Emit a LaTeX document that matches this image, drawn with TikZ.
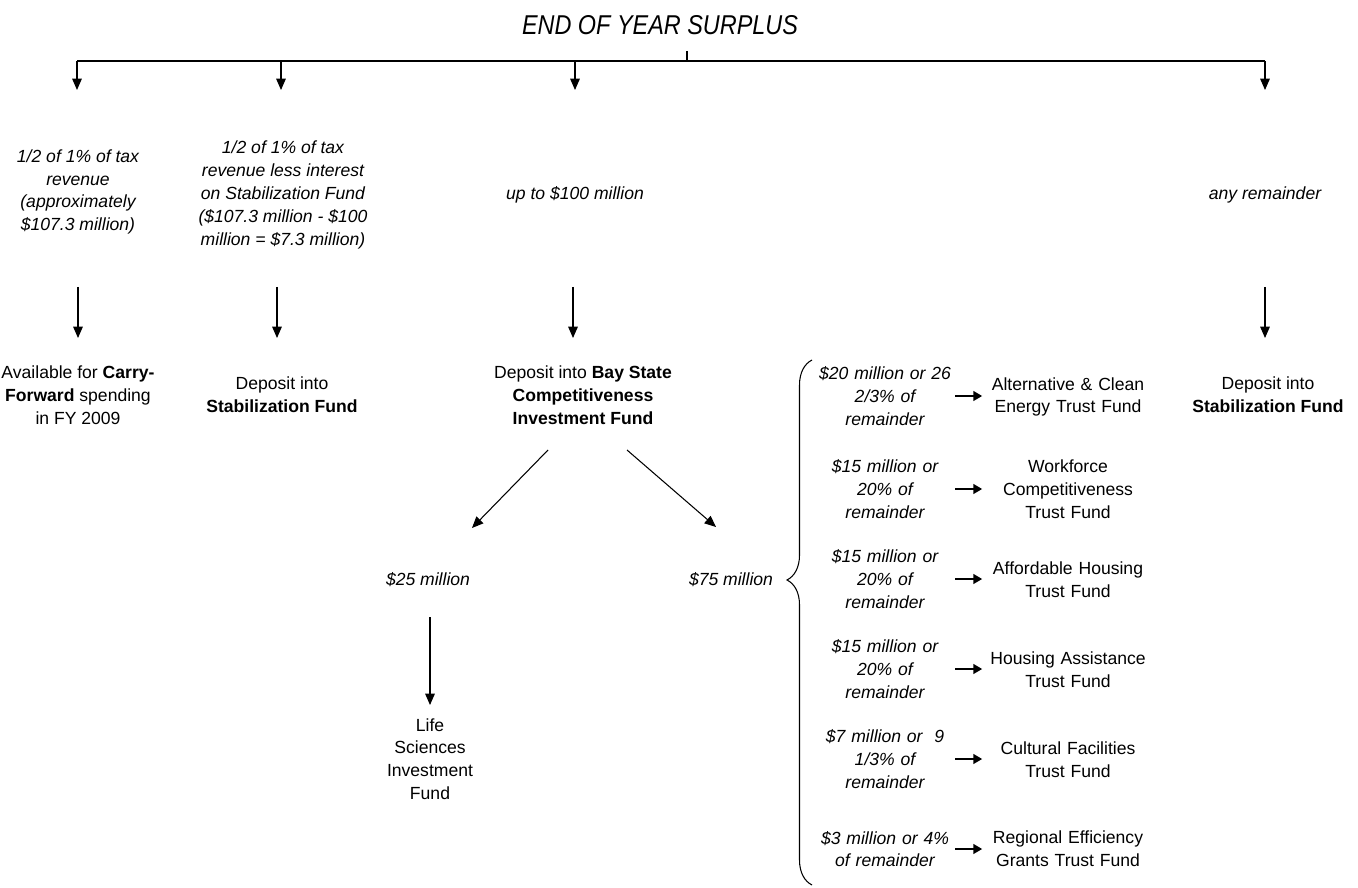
\documentclass[tikz,border=0pt]{standalone}
\usepackage{fontspec}
\setmainfont{Liberation Sans}
\newfontfamily\titlefont[FakeStretch=0.86]{Liberation Sans}
\usetikzlibrary{arrows.meta,decorations.pathreplacing}
\begin{document}
\begin{tikzpicture}[x=0.02cm,y=-0.02cm,
  txt/.style={font=\fontsize{10}{13}\selectfont, align=center, inner sep=0pt},
  lab/.style={txt, font=\fontsize{10}{13}\selectfont\itshape},
  rule/.style={lab, text width=2.8cm},
  fund/.style={txt, text width=3.3cm},
  arr/.style={-{Triangle[length=6.5pt,width=5.5pt]}, line width=0.6pt},
  farr/.style={-{Triangle[length=5pt,width=5.5pt]}, line width=1.1pt, shorten >=1.7pt},
  bus/.style={line width=0.7pt}]
\useasboundingbox (0,0) rectangle (1358,888);

% title and bus
\node[inner sep=0pt, font=\titlefont\itshape\fontsize{15.5}{18}\selectfont] (title) at (660,25) {END OF YEAR SURPLUS};
\coordinate (tick) at (687,51);
\coordinate (bl) at (77,61);
\coordinate (br) at (1265,61);
\draw[bus] (bl) -- (br);
\draw[line width=0.6pt] (tick) -- (tick |- bl);
\foreach \x/\n in {77/1,281/2,575/3,1265/4}{
  \coordinate (t\n) at (\x,61);
  \coordinate (u\n) at (\x,90);
  \draw[arr] (t\n) -- (u\n);
}

% first level labels
\node[lab] (l1) at (78,192) {1/2 of 1\% of tax\\revenue\\(approximately\\\$107.3 million)};
\node[lab] (l2) at (283,195) {1/2 of 1\% of tax\\revenue less interest\\on Stabilization Fund\\(\$107.3 million - \$100\\million = \$7.3 million)};
\node[lab] (l3) at (575,195) {up to \$100 million};
\node[lab] (l4) at (1265,195) {any remainder};

% second level arrows
\draw[arr] (l1 |- 0,287) -- (l1 |- 0,338);
\draw[arr] (277,287) -- (277,338);
\draw[arr] (573,287) -- (573,338);
\draw[arr] (l4 |- 0,287) -- (l4 |- 0,338);

% destinations
\node[txt] (d1) at (78,395) {Available for \textbf{Carry-}\\\textbf{Forward} spending\\in FY 2009};
\node[txt] (d2) at (282,395) {Deposit into\\\textbf{Stabilization Fund}};
\node[txt] (d3) at (583,395) {Deposit into \textbf{Bay State}\\\textbf{Competitiveness}\\\textbf{Investment Fund}};
\node[txt] (d4) at (1268,395) {Deposit into\\\textbf{Stabilization Fund}};

% split of Bay State fund
\coordinate (c1s) at (548,450);
\coordinate (c1e) at (472,528);
\coordinate (c2s) at (627,450);
\coordinate (c2e) at (716,527);
\draw[arr] (c1s) -- (c1e);
\draw[arr] (c2s) -- (c2e);

\node[lab] (s25) at (428,580) {\$25 million};
\node[lab] (s75) at (731,580) {\$75 million};

\draw[arr] (430,617) -- (430,705);
\node[txt] (life) at (430,759) {Life\\Sciences\\Investment\\Fund};

% brace
\coordinate (bb) at (812,885);
\coordinate (bt) at (812,360);
\draw[line width=0.6pt, decorate, decoration={brace, amplitude=0.5cm, aspect=0.581}] (bb) -- (bt);

% trust funds
\node[rule] (r1) at (885,396) {\$20 million or 26\\2/3\% of\\remainder};
\node[rule] (r2) at (885,489) {\$15 million or\\20\% of\\remainder};
\node[rule] (r3) at (885,579) {\$15 million or\\20\% of\\remainder};
\node[rule] (r4) at (885,669) {\$15 million or\\20\% of\\remainder};
\node[rule] (r5) at (885,759) {\$7 million or\ \ 9\\1/3\% of\\remainder};
\node[rule] (r6) at (885,849) {\$3 million or 4\%\\of remainder};

\node[fund] (f1) at (1068,397) {Alternative \& Clean\\Energy Trust Fund};
\node[fund] (f2) at (1068,489) {Workforce\\Competitiveness\\Trust Fund};
\node[fund] (f3) at (1068,580) {Affordable Housing\\Trust Fund};
\node[fund] (f4) at (1068,670) {Housing Assistance\\Trust Fund};
\node[fund] (f5) at (1068,760) {Cultural Facilities\\Trust Fund};
\node[fund] (f6) at (1068,849) {Regional Efficiency\\Grants Trust Fund};

\foreach \i in {1,...,6}{
  \draw[farr] (r\i.east) -- (r\i.east -| f\i.west);
}
\end{tikzpicture}
\end{document}
